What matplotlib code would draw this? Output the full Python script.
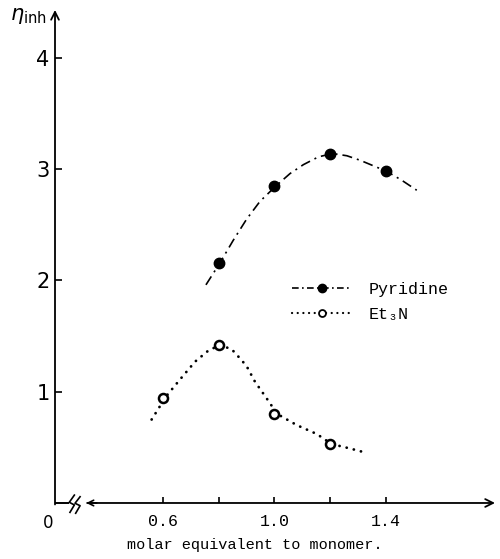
import numpy as np
import matplotlib
matplotlib.use('Agg')
import matplotlib.pyplot as plt
from matplotlib.lines import Line2D

pyr_x = [0.8, 1.0, 1.2, 1.4]
pyr_y = [2.16, 2.85, 3.14, 2.98]
pyr_curve_x = [0.754, 0.805, 0.852, 0.900, 0.948, 1.006, 1.056, 1.104, 1.158, 1.209,
               1.260, 1.307, 1.355, 1.403, 1.457, 1.511]
pyr_curve_y = [1.96, 2.16, 2.36, 2.55, 2.71, 2.85, 2.96, 3.04, 3.11, 3.14,
               3.12, 3.08, 3.03, 2.98, 2.90, 2.81]

# Et3N
et_x = [0.6, 0.8, 1.0, 1.2]
et_y = [0.94, 1.42, 0.80, 0.53]
et_curve_x = [0.559, 0.589, 0.605, 0.661, 0.715, 0.763, 0.805, 0.847, 0.876, 0.900,
              0.930, 0.972, 1.010, 1.080, 1.152, 1.205, 1.271, 1.331]
et_curve_y = [0.75, 0.87, 0.94, 1.11, 1.27, 1.37, 1.42, 1.38, 1.30, 1.23,
              1.09, 0.94, 0.80, 0.70, 0.62, 0.53, 0.49, 0.45]

xticks = [0.6, 0.8, 1.0, 1.2, 1.4]
xticklabels = ['0.6', '', '1.0', '', '1.4']
yticks = [1, 2, 3, 4]

mono = ['Liberation Mono', 'DejaVu Sans Mono']

fig = plt.figure(figsize=(5.0, 5.59), dpi=100)
ax = fig.add_axes([0.11, 0.1002, 0.88, 0.882])
ax.set_xlim(0.212, 1.792)
ax.set_ylim(0, 4.43)
for s in ax.spines.values():
    s.set_visible(False)

# hand-drawn curves, then the measured points
ax.plot(pyr_curve_x, pyr_curve_y, color='black', lw=1.2, ls=(0, (6, 3, 1.2, 3)))
ax.plot(pyr_x, pyr_y, 'o', color='black', ms=7.5)
ax.plot(et_curve_x, et_curve_y, color='black', lw=2.0, ls=(0, (0.05, 2.6)),
        dash_capstyle='round')
ax.plot(et_x, et_y, 'o', mfc='white', mec='black', mew=1.8, ms=6.5)

# axes drawn by hand: y arrow, x arrow with a break mark
ax.annotate('', xy=(0, 1.0), xytext=(0, -0.003), xycoords='axes fraction',
            arrowprops=dict(arrowstyle='->', lw=1.3, color='black',
                            shrinkA=0, shrinkB=0, mutation_scale=14))
# short stub from the origin up to the break
fig.add_artist(Line2D([0.11, 0.1372], [0.1002, 0.1002], color='black', lw=1.4,
                      solid_capstyle='butt'))
ax.annotate('', xy=(1.0, 0), xytext=(0.073, 0), xycoords='axes fraction',
            arrowprops=dict(arrowstyle='->', lw=1.3, color='black',
                            shrinkA=0, shrinkB=0, mutation_scale=14))
ax.annotate('', xy=(0.071, 0), xytext=(0.095, 0), xycoords='axes fraction',
            arrowprops=dict(arrowstyle='->', lw=1.2, color='black',
                            shrinkA=0, shrinkB=0, mutation_scale=10))
ax.add_line(Line2D([0.044, 0.0325, 0.044, 0.034], [0.016, 0.0014, -0.004, -0.019],
                   transform=ax.transAxes, color='black', lw=1.2, clip_on=False))
ax.add_line(Line2D([0.057, 0.0455, 0.057, 0.047], [0.0127, -0.0006, -0.0055, -0.0208],
                   transform=ax.transAxes, color='black', lw=1.2, clip_on=False))

ax.set_xticks(xticks)
ax.set_xticklabels(xticklabels, family=mono, fontsize=12)
ax.set_yticks(yticks)
ax.set_yticklabels([str(v) for v in yticks], fontsize=15)
ax.tick_params(axis='x', direction='in', length=4, width=1.2, pad=8)
ax.tick_params(axis='y', direction='in', length=5, width=1.2, pad=4)

ax.text(-0.016, -0.022, '0', transform=ax.transAxes, ha='center', va='top',
        fontsize=12)
ax.text(0.455, -0.072, 'molar equivalent to monomer.', transform=ax.transAxes,
        ha='center', va='top', family=mono, fontsize=11)
fig.text(0.02, 0.972, r'$\eta_{\rm inh}$', fontsize=15, va='center', ha='left')

handles = [
    Line2D([], [], color='black', lw=1.2, ls=(0, (4, 2, 1, 2)), marker='o', ms=6),
    Line2D([], [], color='black', lw=1.6, ls=(0, (0.05, 2.5)), dash_capstyle='round',
           marker='o', mfc='white', mec='black', mew=1.3, ms=5),
]
ax.legend(handles, ['Pyridine', 'Et₃N'], loc='upper left',
          bbox_to_anchor=(0.52, 0.465), frameon=False, handlelength=3.6,
          handletextpad=1.0, labelspacing=0.6, borderpad=0, numpoints=1,
          prop={'family': mono, 'size': 12})

fig.savefig('out.png', dpi=100)
